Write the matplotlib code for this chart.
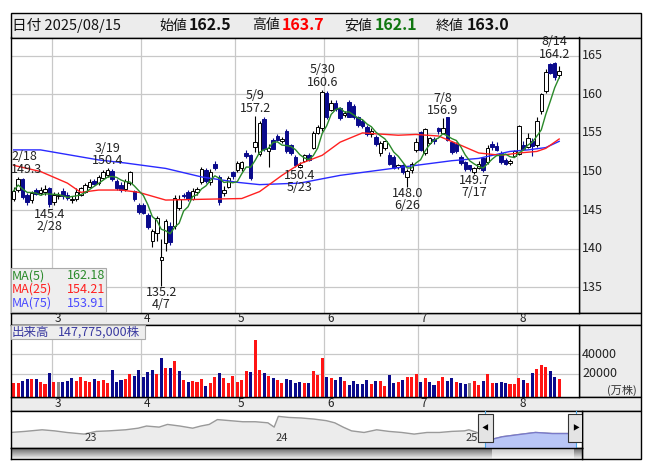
import numpy as np
import pandas as pd
import matplotlib
matplotlib.use('Agg')
import matplotlib.pyplot as plt
from matplotlib.patches import Rectangle
from matplotlib.transforms import blended_transform_factory

plt.rcParams['font.family'] = ['Noto Sans CJK JP', 'DejaVu Sans']

# ---------------- data ----------------
feb = [17, 18, 19, 20, 21, 25, 26, 27, 28]
mar = [3, 4, 5, 6, 7, 10, 11, 12, 13, 14, 17, 18, 19, 21, 24, 25, 26, 27, 28, 31]
apr = [1, 2, 3, 4, 7, 8, 9, 10, 11, 14, 15, 16, 17, 18, 21, 22, 23, 24, 25, 28, 30]
may = [1, 2, 7, 8, 9, 12, 13, 14, 15, 16, 19, 20, 21, 22, 23, 26, 27, 28, 29, 30]
jun = [2, 3, 4, 5, 6, 9, 10, 11, 12, 13, 16, 17, 18, 19, 20, 23, 24, 25, 26, 27, 30]
jul = [1, 2, 3, 4, 7, 8, 9, 10, 11, 14, 15, 16, 17, 18, 22, 23, 24, 25, 28, 29, 30, 31]
aug = [1, 4, 5, 6, 7, 8, 12, 13, 14, 15]

opens = [146.5, 147.6, 149.0, 146.9, 146.3, 147.6, 147.2, 147.4, 147.8, 146.0,
         146.8, 147.5, 147.0, 146.3, 146.4, 147.0, 147.4, 148.0, 148.8, 148.5,
         149.2, 149.5, 150.1, 148.8, 148.3, 147.7, 148.5, 147.5, 145.7, 145.6,
         144.4, 141.0, 142.0, 138.6, 140.8, 143.0, 142.9, 145.3, 147.0, 147.4,
         146.5, 147.3, 148.6, 150.2, 148.6, 151.0, 149.3, 147.2, 148.0, 149.9,
         150.2, 150.4, 152.4, 152.1, 153.2, 152.3, 156.8, 152.6, 154.1, 154.6,
         154.0, 155.3, 153.4, 151.9, 150.6, 151.4, 152.2, 153.1, 155.0, 155.6,
         160.2, 158.0, 158.9, 158.2, 157.3, 159.0, 158.5, 157.0, 156.6, 155.8,
         154.8, 154.5, 152.4, 153.0, 152.2, 151.9, 150.6, 150.8, 149.3, 150.2,
         152.8, 155.1, 152.4, 153.7, 154.2, 155.6, 155.0, 157.0, 153.8, 153.6,
         151.9, 151.2, 150.8, 149.9, 150.5, 151.7, 151.2, 153.5, 153.3, 152.4,
         151.5, 151.1, 152.0, 152.3, 153.4, 153.2, 154.0, 153.4, 157.8, 160.4,
         163.9, 164.0, 162.5]
highs = [148.0, 149.3, 149.2, 147.2, 147.5, 147.8, 148.0, 148.3, 148.0, 147.3,
         147.3, 147.8, 147.3, 146.8, 147.8, 148.0, 148.5, 149.0, 149.0, 149.5,
         150.2, 150.4, 150.3, 149.0, 148.6, 149.0, 150.1, 147.6, 145.9, 145.9,
         144.6, 142.5, 144.2, 141.3, 143.8, 143.4, 147.0, 147.0, 147.2, 147.6,
         147.8, 148.0, 150.6, 150.4, 150.3, 151.4, 149.5, 148.1, 149.4, 150.1,
         151.3, 151.3, 152.8, 152.3, 157.2, 156.6, 157.0, 153.6, 154.3, 154.9,
         154.5, 155.5, 153.6, 152.1, 151.2, 152.3, 152.4, 155.2, 156.0, 160.6,
         160.4, 159.2, 159.2, 158.4, 157.9, 159.2, 158.8, 157.2, 156.8, 156.0,
         155.6, 154.7, 153.9, 154.0, 152.5, 152.1, 151.0, 151.0, 150.3, 151.2,
         154.3, 155.3, 155.7, 154.5, 154.5, 155.8, 156.9, 157.1, 154.0, 153.8,
         152.1, 151.4, 150.9, 150.6, 151.3, 151.9, 153.4, 153.9, 153.8, 152.6,
         151.7, 151.6, 152.8, 156.0, 154.0, 155.0, 154.3, 157.0, 160.2, 163.3,
         164.0, 164.2, 163.7]
lows = [146.2, 147.3, 146.5, 145.7, 145.9, 147.0, 147.0, 147.0, 145.4, 145.7,
        146.5, 146.5, 146.3, 145.9, 146.2, 146.8, 147.2, 147.8, 148.2, 148.3,
        149.0, 149.3, 148.8, 147.6, 147.4, 147.5, 148.3, 146.2, 144.5, 144.5,
        142.6, 140.2, 141.0, 135.2, 139.7, 140.5, 142.5, 145.0, 146.6, 146.2,
        146.3, 147.0, 148.4, 148.5, 148.2, 150.2, 145.7, 146.8, 147.8, 149.0,
        150.0, 150.1, 151.8, 148.9, 152.5, 152.0, 152.6, 150.6, 152.9, 153.9,
        153.7, 152.4, 152.2, 150.6, 150.4, 151.2, 151.3, 152.9, 154.8, 155.3,
        156.8, 157.8, 157.9, 156.7, 157.0, 157.0, 156.8, 155.8, 155.7, 154.6,
        154.5, 153.3, 152.0, 152.8, 150.8, 150.3, 150.3, 149.7, 148.0, 149.8,
        152.5, 152.6, 152.2, 153.5, 153.5, 154.8, 154.9, 153.9, 152.3, 152.4,
        150.9, 150.1, 150.1, 149.7, 150.3, 150.0, 151.0, 152.8, 152.6, 151.0,
        150.8, 150.8, 151.9, 152.2, 152.8, 153.0, 152.0, 153.2, 157.5, 160.2,
        162.6, 161.9, 162.1]
closes = [147.5, 149.0, 146.7, 146.0, 147.2, 147.1, 147.6, 147.7, 145.8, 147.0,
          147.0, 146.8, 146.6, 146.4, 147.4, 147.8, 148.2, 148.6, 148.4, 149.3,
          149.9, 150.2, 149.0, 147.8, 147.6, 148.8, 150.0, 146.4, 144.7, 144.6,
          142.8, 142.3, 144.0, 138.9, 143.6, 140.9, 146.6, 146.5, 146.8, 146.4,
          147.5, 147.7, 150.3, 148.8, 150.0, 150.4, 146.1, 147.6, 149.2, 149.4,
          151.1, 151.2, 152.0, 149.1, 153.8, 156.3, 152.9, 153.0, 152.9, 154.1,
          154.2, 152.6, 152.4, 150.9, 150.8, 152.1, 151.5, 155.0, 155.8, 160.3,
          157.0, 158.9, 158.1, 156.9, 157.6, 157.1, 157.0, 156.0, 155.9, 154.8,
          155.3, 153.5, 153.7, 153.9, 151.0, 150.5, 150.8, 149.9, 150.1, 151.0,
          153.8, 152.8, 155.5, 154.3, 153.9, 155.2, 155.6, 154.1, 152.5, 152.7,
          151.1, 150.3, 150.3, 150.5, 151.0, 150.2, 153.1, 153.2, 152.8, 151.2,
          151.0, 151.4, 152.6, 155.9, 152.9, 154.3, 153.3, 156.5, 160.0, 162.9,
          162.7, 162.2, 163.0]
# volume in 10,000 shares (万株)
volumes = [11200, 11200, 12900, 14900, 14900, 14900, 12200, 9800, 21000, 12200,
           12200, 12200, 12900, 15900, 12900, 17000, 13200, 12200, 14900, 13200,
           13900, 11200, 24100, 12200, 13900, 14900, 19700, 18300, 24100, 17000,
           22000, 24100, 19700, 35900, 25800, 25800, 33200, 22700, 13900, 12200,
           12900, 12200, 14900, 7800, 11200, 17000, 21000, 15900, 11200, 18000,
           12200, 13900, 22700, 22000, 54600, 24100, 21000, 18000, 15900, 13900,
           11200, 14900, 13900, 11200, 12200, 11200, 11200, 23000, 19000, 36300,
           17000, 15900, 13900, 17000, 12900, 8800, 12900, 9800, 9800, 13900,
           9800, 12900, 12900, 7800, 19000, 10800, 12200, 13900, 17000, 17000,
           20000, 11900, 15900, 11900, 8800, 12900, 17000, 12900, 15900, 11900,
           10800, 9800, 10800, 12900, 8800, 12900, 20000, 10800, 10800, 11900,
           10800, 9800, 9800, 15900, 13900, 10800, 21000, 25100, 29200, 27100,
           23000, 17000, 14777.5]

# moving averages (index of trading day, value)
ma25_idx = [0, 6, 12, 15, 19, 24, 28, 34, 42, 51, 55, 60, 64, 69, 73, 78, 86, 90, 95, 100, 104, 109, 113, 117, 119, 122]
ma25_val = [150.8, 150.0, 148.5, 147.3, 147.6, 147.6, 147.3, 146.3, 146.4, 146.5, 147.4, 149.5, 151.0, 152.1, 153.8, 155.0,
            154.7, 154.8, 154.6, 153.4, 152.4, 152.1, 152.4, 152.6, 153.0, 154.21]
ma75_idx = [0, 6, 19, 25, 34, 42, 50, 55, 64, 73, 86, 98, 104, 111, 115, 119, 122]
ma75_val = [152.8, 152.8, 151.5, 151.1, 150.4, 149.3, 148.6, 148.3, 148.5, 149.5, 150.5, 151.4, 151.7, 152.6, 152.8, 153.1, 153.91]
ma_last = [162.18, 154.21, 153.91]
hdr_high, hdr_low = 163.7, 162.1

high_marks = ['2/18', '3/19', '5/9', '5/30', '7/8', '8/14']
low_marks = ['2/28', '4/7', '5/23', '6/26', '7/17']

price_ticks = [135, 140, 145, 150, 155, 160, 165]
vol_ticks = [20000, 40000]

# navigator (long history) : year position, level
nav_t = [2022.614, 2022.69, 2022.78, 2022.845, 2022.91, 2023.0, 2023.064, 2023.13, 2023.218, 2023.284,
         2023.328, 2023.394, 2023.438, 2023.503, 2023.57, 2023.613, 2023.657, 2023.70, 2023.767, 2023.833,
         2023.899, 2023.965, 2023.998, 2024.02, 2024.075, 2024.14, 2024.206, 2024.272, 2024.316, 2024.36,
         2024.404, 2024.47, 2024.536, 2024.60, 2024.668, 2024.733, 2024.80, 2024.865, 2024.93, 2024.997,
         2025.02, 2025.063, 2025.107, 2025.15, 2025.195, 2025.28, 2025.37, 2025.458, 2025.58]
nav_v = [100, 98, 95, 97, 100, 103, 98, 97, 95, 92,
         88, 90, 85, 88, 92, 88, 85, 76, 78, 80,
         80, 82, 90, 70, 72, 73, 75, 78, 82, 90,
         97, 100, 95, 98, 100, 103, 100, 100, 98, 97,
         95, 100, 108, 112, 108, 104, 100, 102, 102]
nav_years = [2023, 2024, 2025]

# ---------------- derived ----------------
months = [2] * len(feb) + [3] * len(mar) + [4] * len(apr) + [5] * len(may) + [6] * len(jun) + [7] * len(jul) + [8] * len(aug)
days = feb + mar + apr + may + jun + jul + aug
labels = [f'{m}/{d}' for m, d in zip(months, days)]
n = len(closes)
x = np.arange(n)
o = np.array(opens); h = np.array(highs); l = np.array(lows); c = np.array(closes)
ma5 = pd.Series(c).rolling(5, min_periods=1).mean().values
month_starts = [i for i in range(1, n) if months[i] != months[i - 1]]

W, H = 653, 470
fig = plt.figure(figsize=(W / 100, H / 100), dpi=100)
fig.patch.set_facecolor('white')

def add_ax(x0, y0, x1, y1, z=2):
    a = fig.add_axes([x0 / W, 1 - y1 / H, (x1 - x0) / W, (y1 - y0) / H])
    a.set_zorder(z)
    return a

def frect(x0, y0, x1, y1, fc, ec='black', lw=1.0, z=0):
    fig.patches.append(Rectangle((x0 / W, 1 - y1 / H), (x1 - x0) / W, (y1 - y0) / H,
                                 transform=fig.transFigure, facecolor=fc, edgecolor=ec, lw=lw, zorder=z))

def ftext(xp, yp, s, **kw):
    kw.setdefault('zorder', 5)
    fig.text(xp / W, 1 - yp / H, s, **kw)

GRAY = '#ececec'
GRID = '#c8c8c8'
NAVY = '#0a0a8c'
RED = '#ff1414'
XL = (-0.67, 126.5)
PX0, PX1 = 10.7, 579.3

def xpix(v):
    return PX0 + (v - XL[0]) / (XL[1] - XL[0]) * (PX1 - PX0)

# outer pieces
frect(10.5, 13, 641, 37.5, GRAY)
frect(579.3, 37.5, 641, 312.7, GRAY)
frect(10.5, 312.7, 641, 325, GRAY)
frect(579.3, 325, 641, 397.3, GRAY)
frect(10.5, 397.3, 641, 411, GRAY)
frect(582, 411, 641, 459, GRAY)

# header
hy = 25.5
ftext(12.5, hy, '日付 2025/08/15', fontsize=10.5, va='center', color='#111111')
ftext(159, hy, '始値', fontsize=10, va='center', color='#111111')
ftext(189, hy, f'{opens[-1]:.1f}', fontsize=11.5, va='center', fontweight='bold', color='#111111')
ftext(252, hy, '高値', fontsize=10, va='center', color='#111111')
ftext(282, hy, f'{hdr_high:.1f}', fontsize=11.5, va='center', fontweight='bold', color='#ff0000')
ftext(344, hy, '安値', fontsize=10, va='center', color='#111111')
ftext(375, hy, f'{hdr_low:.1f}', fontsize=11.5, va='center', fontweight='bold', color='#117711')
ftext(436, hy, '終値', fontsize=10, va='center', color='#111111')
ftext(467, hy, f'{closes[-1]:.1f}', fontsize=11.5, va='center', fontweight='bold', color='#111111')

# ---------------- price panel ----------------
ax = add_ax(PX0, 37.5, PX1, 312.7)
ax.set_xlim(*XL)
ax.set_ylim(131.71, 167.36)
ax.set_xticks([]); ax.set_yticks([])
for s in ax.spines.values():
    s.set_color('black'); s.set_linewidth(1.0)
for p in price_ticks:
    ax.axhline(p, color=GRID, lw=0.9, zorder=0)
for ms in month_starts:
    ax.axvline(ms - 0.5, color=GRID, lw=0.9, zorder=0)

up = c >= o
wick_col = np.where(up, 'black', NAVY)
ax.vlines(x, l, h, colors=wick_col, lw=0.8, zorder=2)
body_lo = np.minimum(o, c)
body_h = np.maximum(np.abs(c - o), 0.08)
ax.bar(x[up], body_h[up], bottom=body_lo[up], width=0.78, facecolor='white', edgecolor='black', lw=0.7, zorder=3)
ax.bar(x[~up], body_h[~up], bottom=body_lo[~up], width=0.78, facecolor=NAVY, edgecolor=NAVY, lw=0.7, zorder=3)

ax.plot(ma75_idx, ma75_val, color='#2a2aff', lw=1.0, zorder=4)
ax.plot(ma25_idx, ma25_val, color='#ff2020', lw=1.0, zorder=4)
ax.plot(x, ma5, color='#2a8a2a', lw=1.0, zorder=5)

tfont = dict(fontsize=9, color='#222222', zorder=6)
for lab in high_marks:
    i = labels.index(lab)
    xi, ha = (i, 'center')
    if i < 3:
        xi, ha = (XL[0] + 0.15, 'left')
    ax.annotate(f'{highs[i]:.1f}', (xi, highs[i]), xytext=(0, 4), textcoords='offset pixels', ha=ha, va='baseline', **tfont)
    ax.annotate(lab, (xi, highs[i]), xytext=(0, 16.5), textcoords='offset pixels', ha=ha, va='baseline', **tfont)
for lab in low_marks:
    i = labels.index(lab)
    ax.annotate(f'{lows[i]:.1f}', (i, lows[i]), xytext=(0, -10.5), textcoords='offset pixels', ha='center', va='baseline', **tfont)
    ax.annotate(lab, (i, lows[i]), xytext=(0, -22.5), textcoords='offset pixels', ha='center', va='baseline', **tfont)

tr = blended_transform_factory(ax.transAxes, ax.transData)
for p in price_ticks:
    ax.text(1.005, p, str(p), transform=tr, fontsize=9, va='center', ha='left', color='#222222', clip_on=False)

# MA legend box
frect(10.7, 268, 106, 311.5, '#eeeeee', ec='#aaaaaa', lw=0.8, z=10)
for k, (nm, col) in enumerate([('MA(5)', '#2a8a2a'), ('MA(25)', '#ff2020'), ('MA(75)', '#4a4aff')]):
    yy = 275.7 + k * 13.8
    ftext(12, yy, nm, fontsize=9, color=col, va='center', ha='left', zorder=11)
    ftext(105, yy, f'{ma_last[k]:.2f}', fontsize=9, color=col, va='center', ha='right', zorder=11)

# month strips
for ystrip in (318.8, 403.8):
    for ms in month_starts:
        ftext(xpix(ms - 0.5) + 2.5, ystrip, str(months[ms]), fontsize=8.5, va='center', ha='left', color='#222222')

# ---------------- volume panel ----------------
av = add_ax(PX0, 325, PX1, 397.3)
av.set_xlim(*XL)
vmin, vmax = -3730, 69833
av.set_ylim(vmin, vmax)
av.set_xticks([]); av.set_yticks([])
for s in av.spines.values():
    s.set_color('black'); s.set_linewidth(1.0)
for v in vol_ticks:
    av.axhline(v, color=GRID, lw=0.9, zorder=0)
for ms in month_starts:
    av.axvline(ms - 0.5, color=GRID, lw=0.9, zorder=0)
vol = np.array(volumes)
d = np.sign(np.round(np.diff(c, prepend=c[0] - 0.1), 2))
vcol = np.where(d > 0, RED, np.where(d < 0, NAVY, '#8c8c8c'))
av.bar(x, vol - vmin, bottom=vmin, width=0.68, color=vcol, zorder=2)
trv = blended_transform_factory(av.transAxes, av.transData)
for v in vol_ticks:
    av.text(1.005, v, str(v), transform=trv, fontsize=9, va='center', ha='left', color='#222222', clip_on=False)
ftext(637, 390.5, '(万株)', fontsize=8, va='center', ha='right', color='#333333')
frect(10.7, 325.3, 145, 339, '#eeeeee', ec='#aaaaaa', lw=0.8, z=10)
ftext(12, 332.2, '出来高', fontsize=9, va='center', ha='left', color='#3a3aa0', zorder=11)
ftext(58, 332.2, f'{int(round(volumes[-1] * 10000)):,}株', fontsize=9, va='center', ha='left', color='#3a3aa0', zorder=11)

# ---------------- navigator ----------------
an = add_ax(10.5, 411, 582, 447.5)
an.set_xlim(2022.614, 2025.614)
an.set_ylim(128, 60)
an.set_xticks([]); an.set_yticks([])
an.set_facecolor('white')
for s in an.spines.values():
    s.set_color('black'); s.set_linewidth(1.0)
nt = np.array(nav_t); nv = np.array(nav_v)
an.fill_between(nt, nv, 128, color='#ececec', zorder=1)
an.plot(nt, nv, color='#9a9a9a', lw=1.0, zorder=2)
sel = nt >= 2025.107
an.fill_between(nt[sel], nv[sel], 128, color='#b9c6f6', zorder=3)
an.plot(nt[sel], nv[sel], color='#7a7ac8', lw=1.0, zorder=4)
an.axvline(2025.107, color='#4aa8e8', lw=0.8, zorder=5)
an.axvline(2025.58, color='#4aa8e8', lw=0.8, zorder=5)
for yv in nav_years:
    an.text(yv + 0.005, 120, str(yv - 2000), fontsize=8, va='bottom', ha='left', color='#333333', zorder=6)
for hx in (2025.107, 2025.58):
    an.add_patch(Rectangle((hx - 0.04, 66), 0.08, 52, facecolor='#e4e4e4', edgecolor='#333333', lw=0.8, zorder=7))
an.text(2025.107, 92, '◀', fontsize=5, ha='center', va='center', zorder=8)
an.text(2025.58, 92, '▶', fontsize=5, ha='center', va='center', zorder=8)

# scrollbar
asb = add_ax(10.5, 447.5, 582, 459)
asb.set_xticks([]); asb.set_yticks([])
grad = np.linspace(0.35, 0.95, 32).reshape(-1, 1)
asb.imshow(grad, extent=(0, 1, 0, 1), aspect='auto', cmap='gray', vmin=0, vmax=1, zorder=1)
asb.imshow(np.linspace(0.75, 0.98, 32).reshape(-1, 1), extent=(0.843, 0.985, 0, 1), aspect='auto', cmap='gray', vmin=0, vmax=1, zorder=2)
asb.set_xlim(0, 1); asb.set_ylim(0, 1)
for s in asb.spines.values():
    s.set_color('black'); s.set_linewidth(1.0)

fig.savefig('out.png', dpi=100)
